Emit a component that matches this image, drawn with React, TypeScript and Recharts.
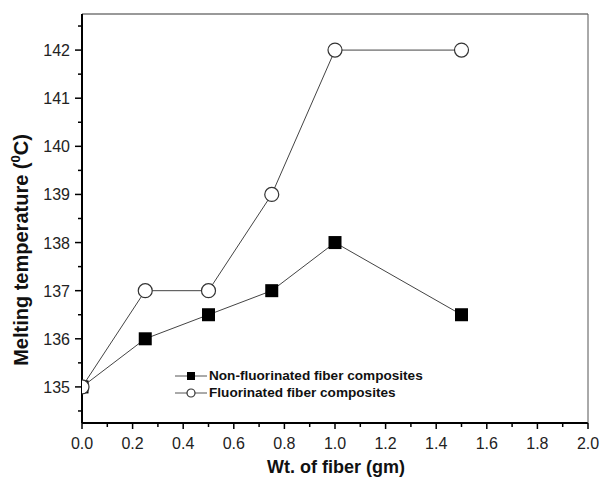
import { Label, Line, LineChart, XAxis, YAxis } from "recharts"

const fiberWt = [0, 0.25, 0.5, 0.75, 1.0, 1.5]
const nonFluorinated = [135, 136, 136.5, 137, 138, 136.5]
const fluorinated = [135, 137, 137, 139, 142, 142]

const xTicks = [0, 0.1, 0.2, 0.3, 0.4, 0.5, 0.6, 0.7, 0.8, 0.9, 1.0, 1.1, 1.2, 1.3, 1.4, 1.5, 1.6, 1.7, 1.8, 1.9, 2.0]
const yTicks = [134.5, 135, 135.5, 136, 136.5, 137, 137.5, 138, 138.5, 139, 139.5, 140, 140.5, 141, 141.5, 142, 142.5]

const data = fiberWt.map((x, i) => ({ x, nonF: nonFluorinated[i], fluo: fluorinated[i] }))

const FONT = '"Liberation Sans", Arial, Helvetica, sans-serif'

const XTick = ({ x, y, payload }: any) => {
  const v = payload.value
  const major = Math.abs(Math.round(v * 10) % 2) === 0
  return (
    <g>
      <line x1={x} x2={x} y1={y} y2={y + (major ? 6 : 4)} stroke="#000" strokeWidth={1.5} />
      {major && (
        <text x={x} y={y + 26} textAnchor="middle" fontSize={16} fontFamily={FONT} fill="#222">
          {v.toFixed(1)}
        </text>
      )}
    </g>
  )
}

const YTick = ({ x, y, payload }: any) => {
  const v = payload.value
  const major = Number.isInteger(v)
  return (
    <g>
      <line x1={x} x2={x - (major ? 7 : 4)} y1={y} y2={y} stroke="#000" strokeWidth={1.5} />
      {major && (
        <text x={x - 12} y={y + 6} textAnchor="end" fontSize={16} fontFamily={FONT} fill="#222">
          {v}
        </text>
      )}
    </g>
  )
}

const Square = ({ cx, cy, side }: any) => {
  const s = side ?? 13
  return cx == null ? null : <rect x={cx - s / 2} y={cy - s / 2} width={s} height={s} fill="#000" />
}

const Circle = ({ cx, cy, rad }: any) => {
  const r = rad ?? 7
  return cx == null ? null : <circle cx={cx} cy={cy} r={r} fill="#fff" stroke="#333" strokeWidth={1.2} />
}

const legendRows = [
  { name: "Non-fluorinated fiber composites", mark: <Square cx={16} cy={5} side={8} /> },
  { name: "Fluorinated fiber composites", mark: <Circle cx={16} cy={5} rad={4} /> },
]

export default function App() {
  return (
    <div style={{ position: "absolute", left: 0, top: 0, width: 601, height: 485, background: "#fff" }}>
      <LineChart width={601} height={485} data={data} margin={{ top: 12, right: 12, bottom: 12, left: 0 }}>
        <XAxis
          dataKey="x"
          type="number"
          domain={[0, 2]}
          ticks={xTicks}
          interval={0}
          allowDataOverflow
          height={50}
          tickLine={false}
          tickSize={0}
          tickMargin={0}
          tick={<XTick />}
          axisLine={{ stroke: "#000", strokeWidth: 2 }}
        >
          <Label
            content={() => (
              <text x={336} y={473} textAnchor="middle" fontSize={18} fontWeight="bold" fontFamily={FONT} fill="#111">
                Wt. of fiber (gm)
              </text>
            )}
          />
        </XAxis>
        {/* frame: top and right edges of the plot box */}
        <XAxis
          xAxisId="top"
          orientation="top"
          dataKey="x"
          type="number"
          domain={[0, 2]}
          height={2}
          tick={false}
          tickLine={false}
          axisLine={{ stroke: "#999", strokeWidth: 2 }}
        />
        <YAxis
          yAxisId="right"
          orientation="right"
          type="number"
          domain={[134.25, 142.75]}
          width={1}
          tick={false}
          tickLine={false}
          axisLine={{ stroke: "#555", strokeWidth: 1 }}
        />
        <YAxis
          type="number"
          domain={[134.25, 142.75]}
          ticks={yTicks}
          interval={0}
          allowDataOverflow
          width={82}
          tickLine={false}
          tickSize={0}
          tickMargin={0}
          tick={<YTick />}
          axisLine={{ stroke: "#000", strokeWidth: 2 }}
        >
          <Label
            content={() => (
              <text
                x={28}
                y={250}
                transform="rotate(-90 28 250)"
                textAnchor="middle"
                fontSize={20}
                fontWeight="bold"
                fontFamily={FONT}
                fill="#111"
              >
                Melting temperature (<tspan dy={-8} fontSize={13}>0</tspan>
                <tspan dy={8}>C)</tspan>
              </text>
            )}
          />
        </YAxis>
        <Line
          dataKey="nonF"
          stroke="#444"
          strokeWidth={1}
          dot={<Square />}
          activeDot={false}
          isAnimationActive={false}
        />
        <Line
          dataKey="fluo"
          stroke="#444"
          strokeWidth={1}
          dot={<Circle />}
          activeDot={false}
          isAnimationActive={false}
        />
      </LineChart>
      <div
        style={{
          position: "absolute",
          left: 175,
          top: 367,
          fontFamily: FONT,
          fontSize: 13.6,
          fontWeight: "bold",
          color: "#111",
        }}
      >
        {legendRows.map((r) => (
          <div key={r.name} style={{ display: "flex", alignItems: "center", height: 17 }}>
            <svg width={34} height={10}>
              <line x1={0} x2={32} y1={5} y2={5} stroke="#555" />
              {r.mark}
            </svg>
            <span style={{ whiteSpace: "nowrap" }}>{r.name}</span>
          </div>
        ))}
      </div>
    </div>
  )
}
